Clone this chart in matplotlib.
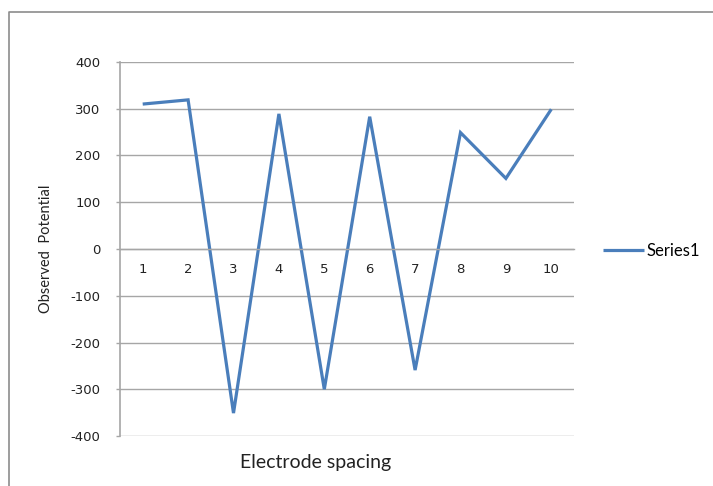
import matplotlib
matplotlib.use("Agg")
import matplotlib.pyplot as plt
from matplotlib.lines import Line2D

LINE_BLUE = '#4a7ebb'
GRID_GRAY = '#a6a6a6'
FRAME_GRAY = '#8c8c8c'

plt.rcParams['axes.unicode_minus'] = False

# data
spacing = [1, 2, 3, 4, 5, 6, 7, 8, 9, 10]
potential = [310, 319, -351, 289, -300, 283, -259, 249, 151, 299]
y_ticks = [-400, -300, -200, -100, 0, 100, 200, 300, 400]

W, H = 713, 486
fig = plt.figure(figsize=(W / 100, H / 100), dpi=100)
ax = fig.add_axes([120 / W, 1 - 436 / H, 454 / W, 374 / H])

ax.plot(spacing, potential, color=LINE_BLUE, linewidth=2.3, label='Series1',
        solid_joinstyle='miter', solid_capstyle='butt')

ax.set_xlim(0.5, 10.5)
ax.set_ylim(-400, 400)
ax.set_yticks(y_ticks)
ax.set_xticks(spacing)
ax.set_xticklabels([str(s) for s in spacing])
ax.yaxis.grid(True, color=GRID_GRAY, linewidth=1.0)
ax.set_axisbelow(True)

for side in ['top', 'right']:
    ax.spines[side].set_visible(False)
ax.spines['left'].set_color(GRID_GRAY)
ax.spines['left'].set_linewidth(1.2)
ax.spines['bottom'].set_position(('data', 0))
ax.spines['bottom'].set_color(GRID_GRAY)
ax.spines['bottom'].set_linewidth(1.0)

ax.tick_params(axis='y', length=3, width=1, color=GRID_GRAY, pad=11,
               labelsize=9.5, labelcolor='#222222')
ax.tick_params(axis='x', length=0, pad=10, labelsize=9.5, labelcolor='#222222')

# axis titles placed where the screenshot has them
fig.text(46 / W, 1 - 249 / H, 'Observed  Potential', family='Lato', fontsize=10.5,
         rotation=90, ha='center', va='center', color='#222222')
fig.text(316 / W, 1 - 462 / H, 'Electrode spacing', family='Lato', fontsize=14,
         ha='center', va='center', color='#222222')

ax.legend(loc='center left', bbox_to_anchor=(603 / W, 1 - 251 / H),
          bbox_transform=fig.transFigure, frameon=False, borderpad=0,
          borderaxespad=0, handlelength=2.45, handletextpad=0.18,
          prop={'family': 'Lato', 'size': 12})

# chart-area frame, cut off at right and bottom like the screenshot
fig.add_artist(Line2D([8.5 / W, 8.5 / W, 1.0], [0.0, 1 - 12 / H, 1 - 12 / H],
                      transform=fig.transFigure, color=FRAME_GRAY, linewidth=1.2))

fig.savefig('out.png', dpi=100)
